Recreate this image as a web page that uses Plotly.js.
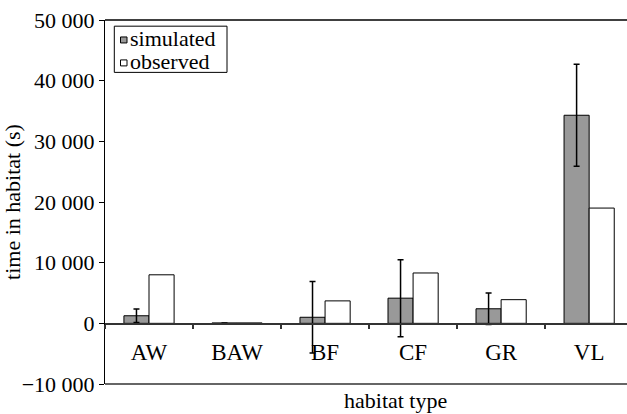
<!DOCTYPE html>
<html>
<head>
<meta charset="utf-8">
<script src="https://cdn.plot.ly/plotly-3.0.1.min.js"></script>
<style>html,body{margin:0;padding:0;background:#fff;}#chart{width:627px;height:414px;}</style>
</head>
<body>
<div id="chart"></div>
<script>
const categories = ["AW", "BAW", "BF", "CF", "GR", "VL"];
const simulated = [1250, 60, 1000, 4150, 2400, 34300];
const simulatedErr = [1100, 0, 5900, 6350, 2600, 8400];
const observed = [8000, 60, 3700, 8300, 3900, 19000];
const seriesNames = ["simulated", "observed"];
const seriesColors = ["#999999", "#ffffff"];
const yTicks = [-10000, 0, 10000, 20000, 30000, 40000, 50000];

const FONT = "Liberation Serif, Times New Roman, serif";
const W = 627, H = 414, ML = 105, MR = 0, MT = 19.5, MB = 29.7;
const PW = W - ML - MR, PH = H - MT - MB;
const px = v => (v - ML) / PW;           // pixel -> paper x
const py = v => (H - MB - v) / PH;       // pixel -> paper y

const traces = seriesNames.map((name, i) => {
  const t = {
    type: "bar", name: name, x: categories, y: i === 0 ? simulated : observed,
    marker: {color: seriesColors[i], line: {color: "#000", width: 1}},
    showlegend: false
  };
  if (i === 0) t.error_y = {type: "data", array: simulatedErr, visible: true, color: "#000", thickness: 1.5, width: 3};
  return t;
});

// legend drawn as box + swatches + text
const legendShapes = [
  {type: "rect", xref: "paper", yref: "paper", x0: px(114.3), x1: px(227), y0: py(72), y1: py(25.7),
   line: {color: "#000", width: 1}, fillcolor: "#fff"}
];
const legendAnn = [];
const rowY = [39.5, 62.5];
seriesNames.forEach((name, i) => {
  legendShapes.push({type: "rect", xref: "paper", yref: "paper",
    x0: px(120.5), x1: px(127), y0: py(rowY[i] + 3), y1: py(rowY[i] - 3),
    line: {color: "#000", width: 1}, fillcolor: seriesColors[i]});
  legendAnn.push({text: name, xref: "paper", yref: "paper", x: px(128.5), y: py(rowY[i] - 1.5),
    xanchor: "left", yanchor: "middle", showarrow: false, borderpad: 0,
    font: {family: FONT, size: 22, color: "#000"}});
});

const layout = {
  width: W, height: H,
  margin: {l: ML, r: MR, t: MT, b: MB, pad: 0},
  paper_bgcolor: "#fff", plot_bgcolor: "#fff",
  font: {family: FONT, color: "#000", size: 22},
  separators: ". ",
  barmode: "group", bargap: 0.43, bargroupgap: 0,
  showlegend: false,
  xaxis: {
    type: "category", range: [-0.5, 5.43],
    anchor: "free", position: 1/6,
    showline: true, linecolor: "#333", linewidth: 1.5,
    ticks: "outside", tickson: "boundaries", ticklen: 4, tickcolor: "#333", tickwidth: 1.5,
    ticklabelstandoff: 8,
    tickfont: {family: FONT, size: 23, color: "#000"},
    showgrid: false, zeroline: false, fixedrange: true
  },
  yaxis: {
    range: [-10000, 50000], tickvals: yTicks, tickformat: ",d",
    showline: true, linecolor: "#000", linewidth: 1,
    ticks: "outside", ticklen: 5, tickcolor: "#000",
    tickfont: {family: FONT, size: 22, color: "#000"},
    showgrid: false, zeroline: false,
    title: {text: "time in habitat (s)", font: {family: FONT, size: 22, color: "#000"}, standoff: 8}
  },
  shapes: [
    {type: "line", xref: "paper", yref: "paper", x0: 0, x1: 1, y0: 0, y1: 0, line: {color: "#333", width: 1.5}},
    {type: "line", xref: "paper", yref: "paper", x0: 0, x1: 1, y0: 1, y1: 1, line: {color: "#000", width: 1.5}}
  ].concat(legendShapes),
  annotations: [
    {text: "habitat type", xref: "paper", yref: "paper", x: px(395), y: py(401),
     xanchor: "center", yanchor: "middle", showarrow: false,
     font: {family: FONT, size: 22, color: "#000"}}
  ].concat(legendAnn)
};

Plotly.newPlot("chart", traces, layout, {displayModeBar: false, staticPlot: true});
</script>
</body>
</html>
